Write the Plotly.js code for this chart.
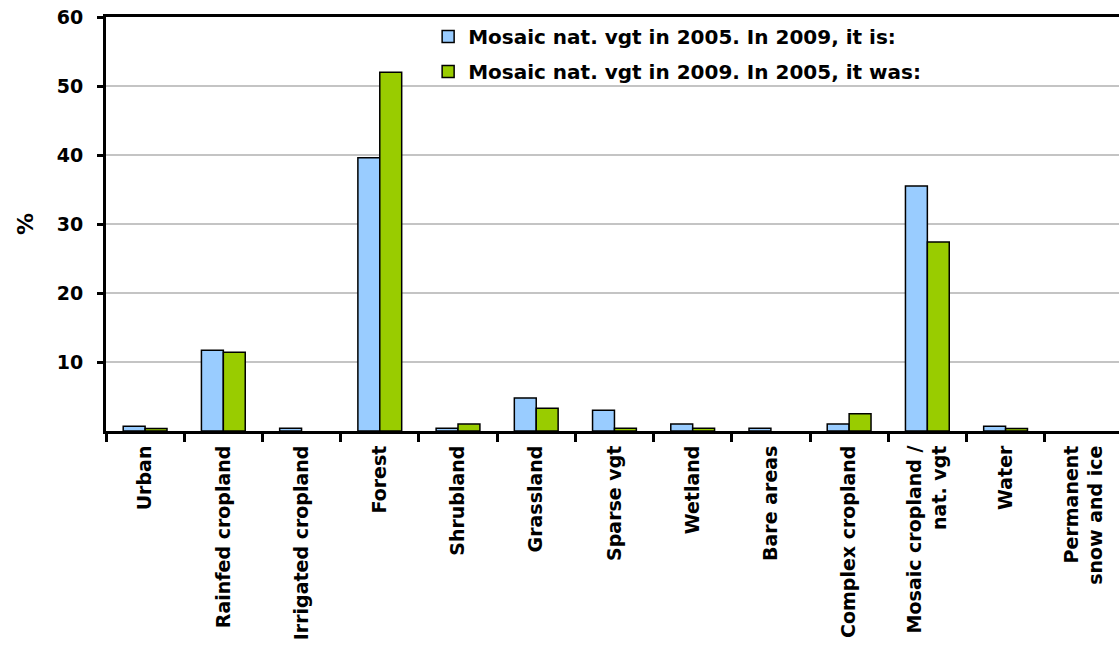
<!DOCTYPE html>
<html>
<head>
<meta charset="utf-8">
<script src="https://cdn.plot.ly/plotly-3.0.1.min.js"></script>
<style>html,body{margin:0;padding:0;background:#fff;}#chart{width:1119px;height:651px;}</style>
</head>
<body>
<div id="chart"></div>
<script>
var categories = ["Urban", "Rainfed cropland", "Irrigated cropland", "Forest", "Shrubland", "Grassland", "Sparse vgt", "Wetland", "Bare areas", "Complex cropland", "Mosaic cropland /<br>nat. vgt", "Water", "Permanent<br>snow and ice"];
var series2005Name = "Mosaic nat. vgt in 2005. In 2009, it is:";
var series2009Name = "Mosaic nat. vgt in 2009. In 2005, it was:";
var values2005 = [0.7, 11.7, 0.4, 39.6, 0.4, 4.8, 3.0, 1.0, 0.4, 1.0, 35.5, 0.7, 0];
var values2009 = [0.35, 11.4, 0, 52.0, 1.0, 3.3, 0.4, 0.4, 0, 2.5, 27.4, 0.35, 0];
var yTickVals = [10, 20, 30, 40, 50, 60];
var yTitle = "%";

function hideZero(arr) { return arr.map(function (v) { return v === 0 ? null : v; }); }

var font = "DejaVu Sans, Verdana, sans-serif";
var traces = [
  {type: "bar", name: series2005Name, x: categories, y: hideZero(values2005), legendgroup: "a",
   marker: {color: "#99ccff", line: {color: "#000", width: 1.5}}},
  {type: "bar", name: series2009Name, x: categories, y: hideZero(values2009), legendgroup: "b",
   marker: {color: "#99cc00", line: {color: "#000", width: 1.5}}}
];
var layout = {
  width: 1119, height: 651,
  margin: {l: 106, r: 0, t: 17, b: 220},
  paper_bgcolor: "#fff", plot_bgcolor: "#fff",
  font: {family: font, color: "#000", size: 19, weight: "bold"},
  barmode: "group", bargap: 0.44, bargroupgap: 0,
  showlegend: true,
  legend: {x: 0.318, y: 1.0, xanchor: "left", yanchor: "top", bgcolor: "rgba(0,0,0,0)",
           font: {family: font, size: 20, weight: "bold", color: "#000"},
           traceorder: "grouped", tracegroupgap: 6, itemwidth: 30},
  xaxis: {type: "category", range: [-0.5, 12.45], showline: true, linecolor: "#000", linewidth: 3,
          mirror: true, ticks: "outside", tickson: "boundaries", ticklen: 8, tickwidth: 3, tickcolor: "#000",
          tickangle: -90, showgrid: false, ticklabelstandoff: 4,
          tickfont: {family: font, size: 19, weight: "bold", color: "#000"}, fixedrange: true},
  yaxis: {range: [0, 60], tickvals: yTickVals, showline: true, linecolor: "#000", linewidth: 3,
          ticks: "outside", ticklen: 6, tickwidth: 3, tickcolor: "#000", ticklabelstandoff: 10,
          showgrid: true, gridcolor: "#c4c4c4", gridwidth: 2, zeroline: false,
          tickfont: {family: font, size: 19, weight: "bold", color: "#000"},
          title: {text: "\u00a0\u00a0\u00a0\u00a0\u00a0" + yTitle, standoff: 18, font: {family: font, size: 22, weight: "bold", color: "#000"}},
          fixedrange: true}
};
Plotly.newPlot("chart", traces, layout, {displayModeBar: false, staticPlot: true});
</script>
</body>
</html>
